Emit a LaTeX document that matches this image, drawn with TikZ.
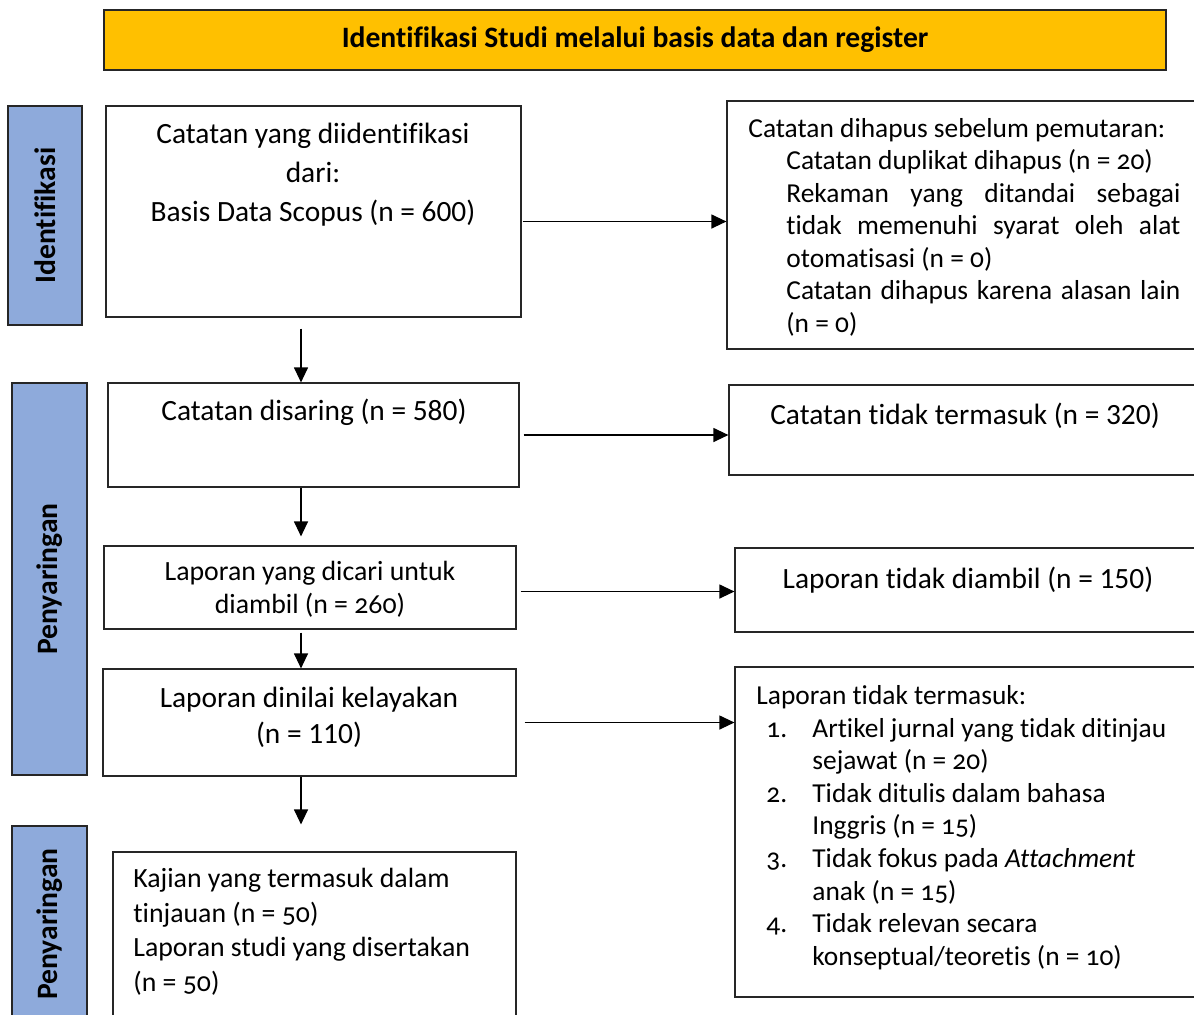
\documentclass[tikz,border=0pt]{standalone}
\usepackage{fontspec}
\setmainfont[Ligatures=NoCommon]{Carlito}
\newfontfamily\oldfig[Numbers=OldStyle,Ligatures=NoCommon]{Carlito}
\usetikzlibrary{arrows.meta,fit}
\definecolor{titlefill}{HTML}{FFC000}
\definecolor{stagefill}{HTML}{8EAADB}
\tikzset{
  box/.style={draw=black!85, line width=0.6pt, inner sep=0pt},
  stage/.style={box, fill=stagefill},
  stagetext/.style={rotate=90, inner sep=0pt, font=\bfseries\fontsize{14.8}{17}\selectfont},
  txt/.style={inner sep=0pt, anchor=north},
  arr/.style={-{Triangle[length=7.5pt,width=7pt]}, line width=0.6pt},
}
\begin{document}
\begin{tikzpicture}[x=0.5pt,y=-0.5pt]
\useasboundingbox (0,0) rectangle (1194,1014);
\clip (0,0) rectangle (1194,1014);

\node[box, fill=titlefill, fit={(104,10) (1166,70)}] (title) {};
\node[inner sep=0pt, font=\bfseries\fontsize{14.8}{17}\selectfont] (titletext) at (title.center) {Identifikasi Studi melalui basis data dan register};

\node[stage, fit={(8,106) (82,325)}] (stageid) {};
\node[stagetext] (stageidtext) at (stageid.center) {Identifikasi};
\node[stage, fit={(12,383) (87,775)}] (stagescr) {};
\node[stagetext] (stagescrtext) at (stagescr.center) {Penyaringan};
\node[stage, fit={(12,826) (87,1022)}] (stageinc) {};
\node[stagetext] (stageinctext) at (stageinc.center) {Penyaringan};

\node[box, fit={(106,106) (521,317)}] (ident) {};
\node[txt, align=center, font=\fontsize{14.7}{19.5}\selectfont] (identtext) at (313,123)
  {Catatan yang diidentifikasi\\dari:\\Basis Data Scopus (n = 600)};

\node[box, fit={(727,101) (1210,349)}] (removed) {};
\node[txt, anchor=north west, align=left, font=\oldfig\fontsize{13.7}{16.25}\selectfont] (removedtext) at (748,118)
  {Catatan dihapus sebelum pemutaran:\\
   \hspace*{19pt}Catatan duplikat dihapus (n = 20)\\
   \hspace*{19pt}\makebox[197pt][s]{Rekaman yang ditandai sebagai}\\
   \hspace*{19pt}\makebox[197pt][s]{tidak memenuhi syarat oleh alat}\\
   \hspace*{19pt}otomatisasi (n = 0)\\
   \hspace*{19pt}\makebox[197pt][s]{Catatan dihapus karena alasan lain}\\
   \hspace*{19pt}(n = 0)};

\node[box, fit={(108,383) (519,487)}] (screen) {};
\node[txt, font=\fontsize{14.7}{17}\selectfont] (screentext) at (314,399) {Catatan disaring (n = 580)};

\node[box, fit={(729,385) (1210,475)}] (notscr) {};
\node[txt, font=\fontsize{14.7}{17}\selectfont] (notscrtext) at (965,403) {Catatan tidak termasuk (n = 320)};

\node[box, fit={(104,546) (516,629)}] (sought) {};
\node[txt, align=center, font=\oldfig\fontsize{13.9}{16.5}\selectfont] (soughttext) at (310,561)
  {Laporan yang dicari untuk\\diambil (n = 260)};

\node[box, fit={(735,548) (1210,632)}] (notret) {};
\node[txt, font=\fontsize{14.7}{17}\selectfont] (notrettext) at (968,567) {Laporan tidak diambil (n = 150)};

\node[box, fit={(103,669) (516,776)}] (assess) {};
\node[txt, align=center, font=\fontsize{14.7}{18}\selectfont] (assesstext) at (309,687)
  {Laporan dinilai kelayakan\\(n = 110)};

\node[box, fit={(735,667) (1210,997)}] (excl) {};
\node[txt, anchor=north west, align=left, font=\oldfig\fontsize{13.7}{16.3}\selectfont] (excltext) at (756,685)
  {Laporan tidak termasuk:\\
   \hspace*{5pt}\makebox[23pt][l]{1.}Artikel jurnal yang tidak ditinjau\\
   \hspace*{28pt}sejawat (n = 20)\\
   \hspace*{5pt}\makebox[23pt][l]{2.}Tidak ditulis dalam bahasa\\
   \hspace*{28pt}Inggris (n = 15)\\
   \hspace*{5pt}\makebox[23pt][l]{3.}Tidak fokus pada \textit{Attachment}\\
   \hspace*{28pt}anak (n = 15)\\
   \hspace*{5pt}\makebox[23pt][l]{4.}Tidak relevan secara\\
   \hspace*{28pt}konseptual/teoretis (n = 10)};

\node[box, fit={(113,852) (516,1030)}] (incl) {};
\node[txt, anchor=north west, align=left, font=\oldfig\fontsize{13.9}{17.3}\selectfont] (incltext) at (133,868)
  {Kajian yang termasuk dalam\\tinjauan (n = 50)\\Laporan studi yang disertakan\\(n = 50)};

\coordinate (col) at (301,0);
\draw[arr, shorten <=5.5pt] (ident.south -| col) -- (screen.north -| col);
\draw[arr, shorten >=4.5pt] (screen.south -| col) -- (sought.north -| col);
\draw[arr, shorten <=1.5pt] (sought.south -| col) -- (assess.north -| col);
\draw[arr, shorten >=13.5pt] (assess.south -| col) -- (incl.north -| col);

\draw[arr, shorten <=0.5pt] ([yshift=-5pt]ident.east) -- ([yshift=-5pt]ident.east -| removed.west);
\draw[arr, shorten <=2pt] (screen.east) -- (screen.east -| notscr.west);
\draw[arr, shorten <=2pt] ([yshift=-2pt]sought.east) -- ([yshift=-2pt]sought.east -| notret.west);
\draw[arr, shorten <=4pt] (assess.east) -- (assess.east -| excl.west);
\end{tikzpicture}
\end{document}
